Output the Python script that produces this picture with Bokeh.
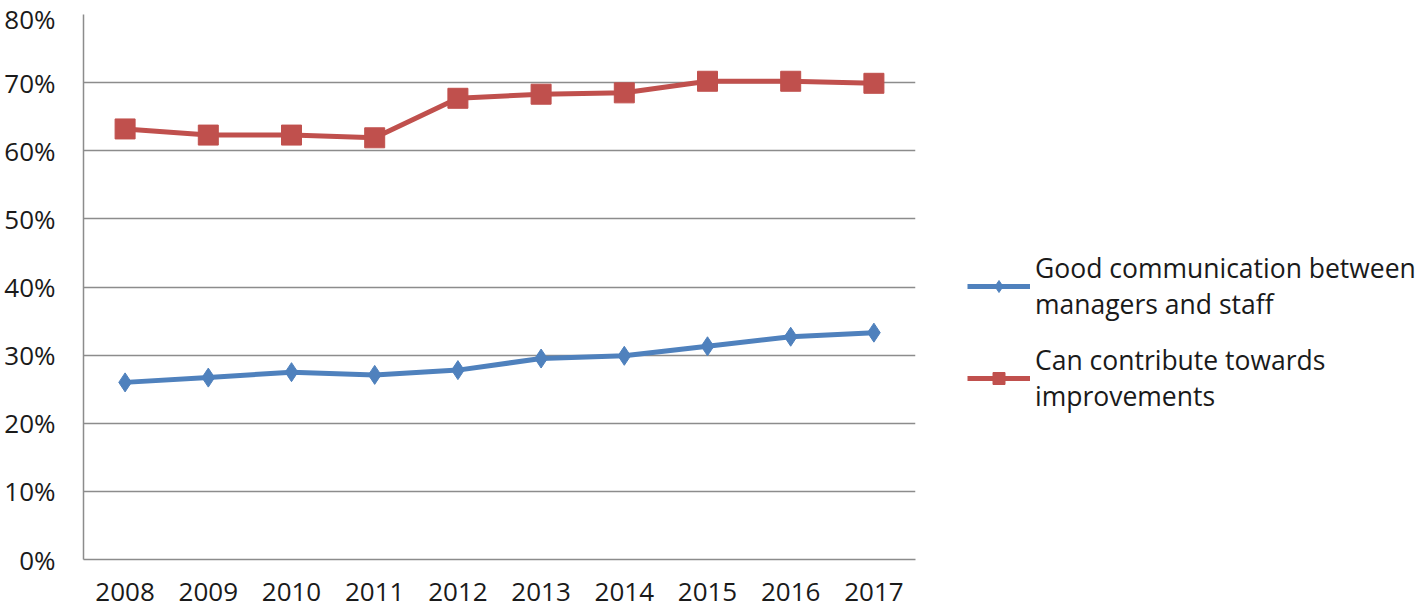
from bokeh.plotting import figure
from bokeh.models import (ColumnDataSource, FactorRange, Range1d, NumeralTickFormatter,
                          SingleIntervalTicker, Legend, LegendItem)
from bokeh.embed import file_html
from bokeh.resources import INLINE

years = ["2008", "2009", "2010", "2011", "2012", "2013", "2014", "2015", "2016", "2017"]
good_communication = [0.260, 0.267, 0.275, 0.271, 0.278, 0.295, 0.299, 0.313, 0.327, 0.333]
can_contribute = [0.632, 0.623, 0.623, 0.619, 0.677, 0.683, 0.685, 0.702, 0.702, 0.699]
series_names = ["Good communication between\nmanagers and staff",
                "Can contribute towards\nimprovements"]

FONT = "Open Sans"
BLUE = "#4F81BD"
RED = "#C0504D"
GRID = "#8C8C8C"

src = ColumnDataSource(dict(x=years, blue=good_communication, red=can_contribute))

p = figure(frame_width=832, frame_height=545, x_range=FactorRange(*years, range_padding=0),
           y_range=Range1d(0, 0.8), output_backend="svg", toolbar_location=None,
           min_border_left=83, min_border_top=14, min_border_right=0, min_border_bottom=50)
p.outline_line_color = None
p.background_fill_color = "white"

p.xgrid.grid_line_color = None
p.ygrid.grid_line_color = GRID
p.ygrid.grid_line_width = 1.5

p.yaxis.ticker = SingleIntervalTicker(interval=0.1)
p.yaxis.formatter = NumeralTickFormatter(format="0%")
for ax in (p.xaxis[0], p.yaxis[0]):
    ax.axis_line_color = GRID
    ax.axis_line_width = 1.5
    ax.major_tick_line_color = None
    ax.minor_tick_line_color = None
    ax.major_tick_out = 0
    ax.major_tick_in = 0
    ax.major_label_text_font = FONT
    ax.major_label_text_font_size = "26px"
    ax.major_label_text_color = "#1a1a1a"
p.yaxis.major_label_standoff = 24
p.xaxis.major_label_standoff = 23

bl = p.line("x", "blue", source=src, line_color=BLUE, line_width=5)
bm = p.scatter("x", "blue", source=src, marker="diamond", size=19, fill_color=BLUE, line_color=BLUE)
rl = p.line("x", "red", source=src, line_color=RED, line_width=5)
rm = p.scatter("x", "red", source=src, marker="square", size=20, fill_color=RED, line_color=RED)

legend = Legend(items=[LegendItem(label=series_names[0], renderers=[bl, bm]),
                       LegendItem(label=series_names[1], renderers=[rl, rm])],
                location=(52, 145), border_line_color=None, background_fill_alpha=0,
                glyph_width=63, glyph_height=30, label_standoff=5, spacing=20,
                label_text_font=FONT, label_text_font_size="26.5px", label_text_color="#1a1a1a",
                label_text_line_height=1.25, padding=0, margin=0)
p.add_layout(legend, "right")

open("out.html", "w").write(file_html(p, INLINE))
